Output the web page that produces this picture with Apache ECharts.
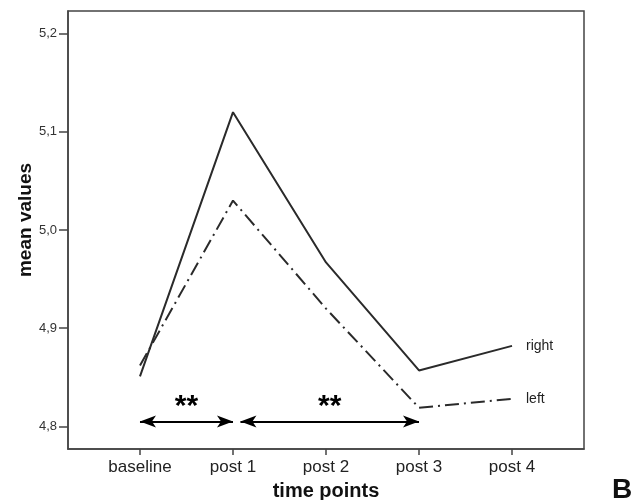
<!DOCTYPE html>
<html>
<head>
<meta charset="utf-8">
<script src="https://cdn.jsdelivr.net/npm/echarts@6/dist/echarts.min.js"></script>
<style>
  html, body { margin: 0; padding: 0; background: #fff; }
  #chart { width: 632px; height: 500px; }
</style>
</head>
<body>
<div id="chart"></div>
<script>
// time points and mean values
const timePoints = ['baseline', 'post 1', 'post 2', 'post 3', 'post 4']
const rightValues = [4.851, 5.120, 4.967, 4.857, 4.882]
const leftValues = [4.862, 5.030, 4.920, 4.819, 4.828]
const yTicks = [4.8, 4.9, 5.0, 5.1, 5.2]

// significance arrows: [from, to] in time-point units, at this level
const arrowSpans = [[0, 1], [1.08, 3]]
const arrowLevel = 4.805
const arrowLabel = '**'

const font = '"Liberation Sans", Arial, sans-serif'
const ink = '#222'

const chart = echarts.init(document.getElementById('chart'))

const toPairs = (vals) => vals.map((v, i) => [i, v])

chart.setOption({
  animation: false,
  textStyle: { fontFamily: font },
  grid: {
    left: 68, right: 48, top: 11, bottom: 51,
    outerBoundsMode: 'none',
    containLabel: false,
    show: true,
    borderColor: '#444',
    borderWidth: 1.5,
    backgroundColor: 'transparent'
  },
  xAxis: {
    type: 'value',
    min: -0.774,
    max: 4.774,
    name: 'time points',
    nameLocation: 'middle',
    nameGap: 32,
    nameMoveOverlap: false,
    nameTextStyle: { fontSize: 20, fontWeight: 'bold', color: '#111' },
    axisLine: { onZero: false, lineStyle: { color: '#444', width: 1.5 } },
    splitLine: { show: false },
    axisTick: {
      length: 6,
      customValues: [0, 1, 2, 3, 4],
      lineStyle: { color: '#444', width: 1.5 }
    },
    axisLabel: {
      customValues: [0, 1, 2, 3, 4],
      fontSize: 17,
      color: ink,
      margin: 10,
      formatter: (v) => timePoints[Math.round(v)]
    }
  },
  yAxis: {
    type: 'value',
    min: 4.777,
    max: 5.223,
    name: 'mean values',
    nameLocation: 'middle',
    nameGap: 33,
    nameMoveOverlap: false,
    nameTextStyle: { fontSize: 19, fontWeight: 'bold', color: '#111', padding: [0, 0, 0, 20] },
    axisLine: { onZero: false, lineStyle: { color: '#444', width: 1.5 } },
    splitLine: { show: false },
    axisTick: {
      length: 9,
      customValues: yTicks,
      lineStyle: { color: '#444', width: 1.5 }
    },
    axisLabel: {
      customValues: yTicks,
      fontSize: 13,
      color: '#333',
      margin: 11,
      formatter: (v) => v.toFixed(1).replace('.', ',')
    }
  },
  series: [
    {
      name: 'right',
      type: 'line',
      data: toPairs(rightValues),
      showSymbol: false,
      lineStyle: { color: '#2a2a2a', width: 2 },
      endLabel: {
        show: true,
        formatter: '{a}',
        distance: 14,
        fontSize: 14,
        color: ink
      },
      markLine: {
        silent: true,
        symbol: ['arrow', 'arrow'],
        symbolSize: [9, 16],
        lineStyle: { color: '#000', width: 2, type: 'solid' },
        label: {
          show: true,
          position: 'middle',
          formatter: arrowLabel,
          fontSize: 30,
          fontWeight: 'bold',
          color: '#000',
          distance: 0
        },
        data: arrowSpans.map(([a, b]) => [
          { coord: [a, arrowLevel] },
          { coord: [b, arrowLevel] }
        ])
      }
    },
    {
      name: 'left',
      type: 'line',
      data: toPairs(leftValues),
      showSymbol: false,
      lineStyle: { color: '#2a2a2a', width: 2, type: [14, 5, 2, 5] },
      endLabel: {
        show: true,
        formatter: '{a}',
        distance: 14,
        fontSize: 14,
        color: ink
      }
    }
  ],
  graphic: [
    {
      type: 'text',
      left: 612,
      top: 476,
      style: { text: 'B', fill: '#111', font: 'bold 28px ' + font }
    }
  ]
})
</script>
</body>
</html>
